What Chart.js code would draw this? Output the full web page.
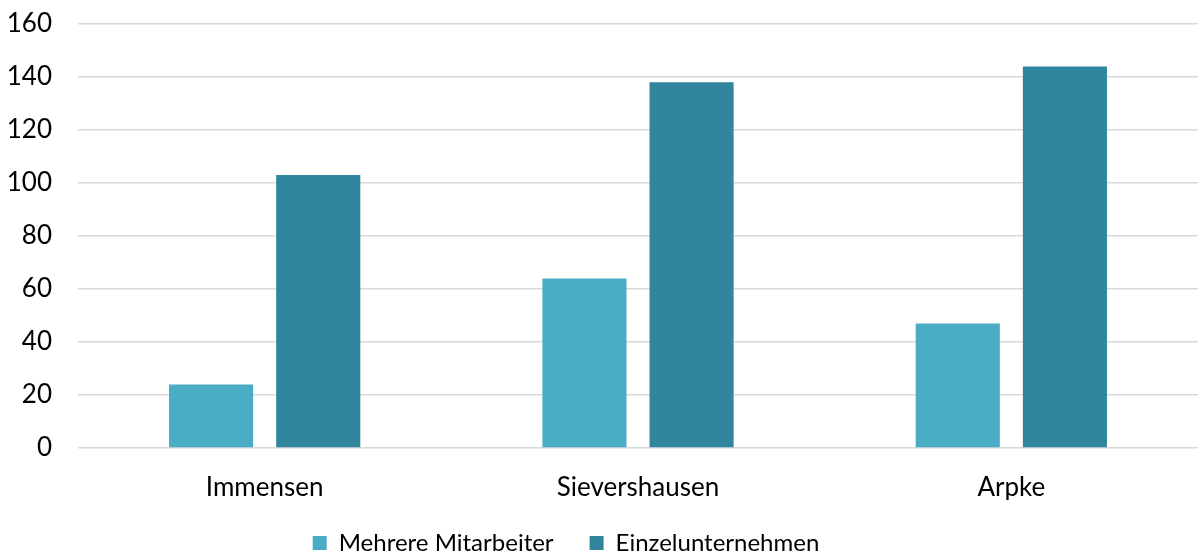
<!DOCTYPE html>
<html>
<head>
<meta charset="utf-8">
<script src="https://cdn.jsdelivr.net/npm/chart.js@4/dist/chart.umd.min.js"></script>
<style>
  html, body { margin: 0; padding: 0; background: #fff; }
  #wrap { width: 1198px; height: 557px; }
</style>
</head>
<body>
<div id="wrap"><canvas id="chart"></canvas></div>
<script>
// Data
const categories = ['Immensen', 'Sievershausen', 'Arpke'];
const mehrereMitarbeiter = [24, 64, 47];
const einzelunternehmen = [103, 138, 144];
const seriesNames = ['Mehrere Mitarbeiter', 'Einzelunternehmen'];

const FONT = 'Lato, "Open Sans", sans-serif';

// legend uses one padding for gaps and height: trim the height, nudge it
const legendFix = {
    id: 'legendFix',
    beforeLayout(chart) {
        const legend = chart.legend;
        if (legend && !legend._patched) {
            const origFit = legend.fit;
            legend.fit = function() {
                origFit.call(this);
                this.height = 57;
            };
            const origDraw = legend.draw;
            legend.draw = function() {
                this.ctx.save();
                this.ctx.translate(-33, -5);
                origDraw.call(this);
                this.ctx.restore();
            };
            legend._patched = true;
        }
    }
};

const ctx = document.getElementById('chart').getContext('2d');
new Chart(ctx, {
    type: 'bar',
    data: {
        labels: categories,
        datasets: [
            {
                label: seriesNames[0],
                data: mehrereMitarbeiter,
                backgroundColor: '#4bacc6',
                barPercentage: 0.785,
                categoryPercentage: 0.574
            },
            {
                label: seriesNames[1],
                data: einzelunternehmen,
                backgroundColor: '#31859c',
                barPercentage: 0.785,
                categoryPercentage: 0.574
            }
        ]
    },
    plugins: [legendFix],
    options: {
        responsive: true,
        maintainAspectRatio: false,
        animation: false,
        layout: { padding: 0 },
        plugins: {
            legend: {
                position: 'bottom',
                labels: {
                    color: '#000',
                    font: { family: FONT, size: 24 },
                    boxWidth: 14,
                    boxHeight: 14,
                    padding: 36
                }
            },
            tooltip: { enabled: false }
        },
        scales: {
            x: {
                grid: { display: false },
                border: { display: false },
                ticks: { color: '#000', font: { family: FONT, size: 26 }, padding: 16 },
                afterFit: function(scale) { scale.height = 52; }
            },
            y: {
                min: 0,
                max: 160,
                ticks: { stepSize: 20, color: '#000', font: { family: FONT, size: 26 }, padding: 26 },
                grid: { color: '#d9d9d9', lineWidth: 1.5, drawTicks: false },
                border: { display: false },
                afterFit: function(scale) {
                    scale.width = 78;
                    scale.paddingTop = 24;
                    scale.paddingBottom = 0;
                }
            }
        }
    }
});
</script>
</body>
</html>
